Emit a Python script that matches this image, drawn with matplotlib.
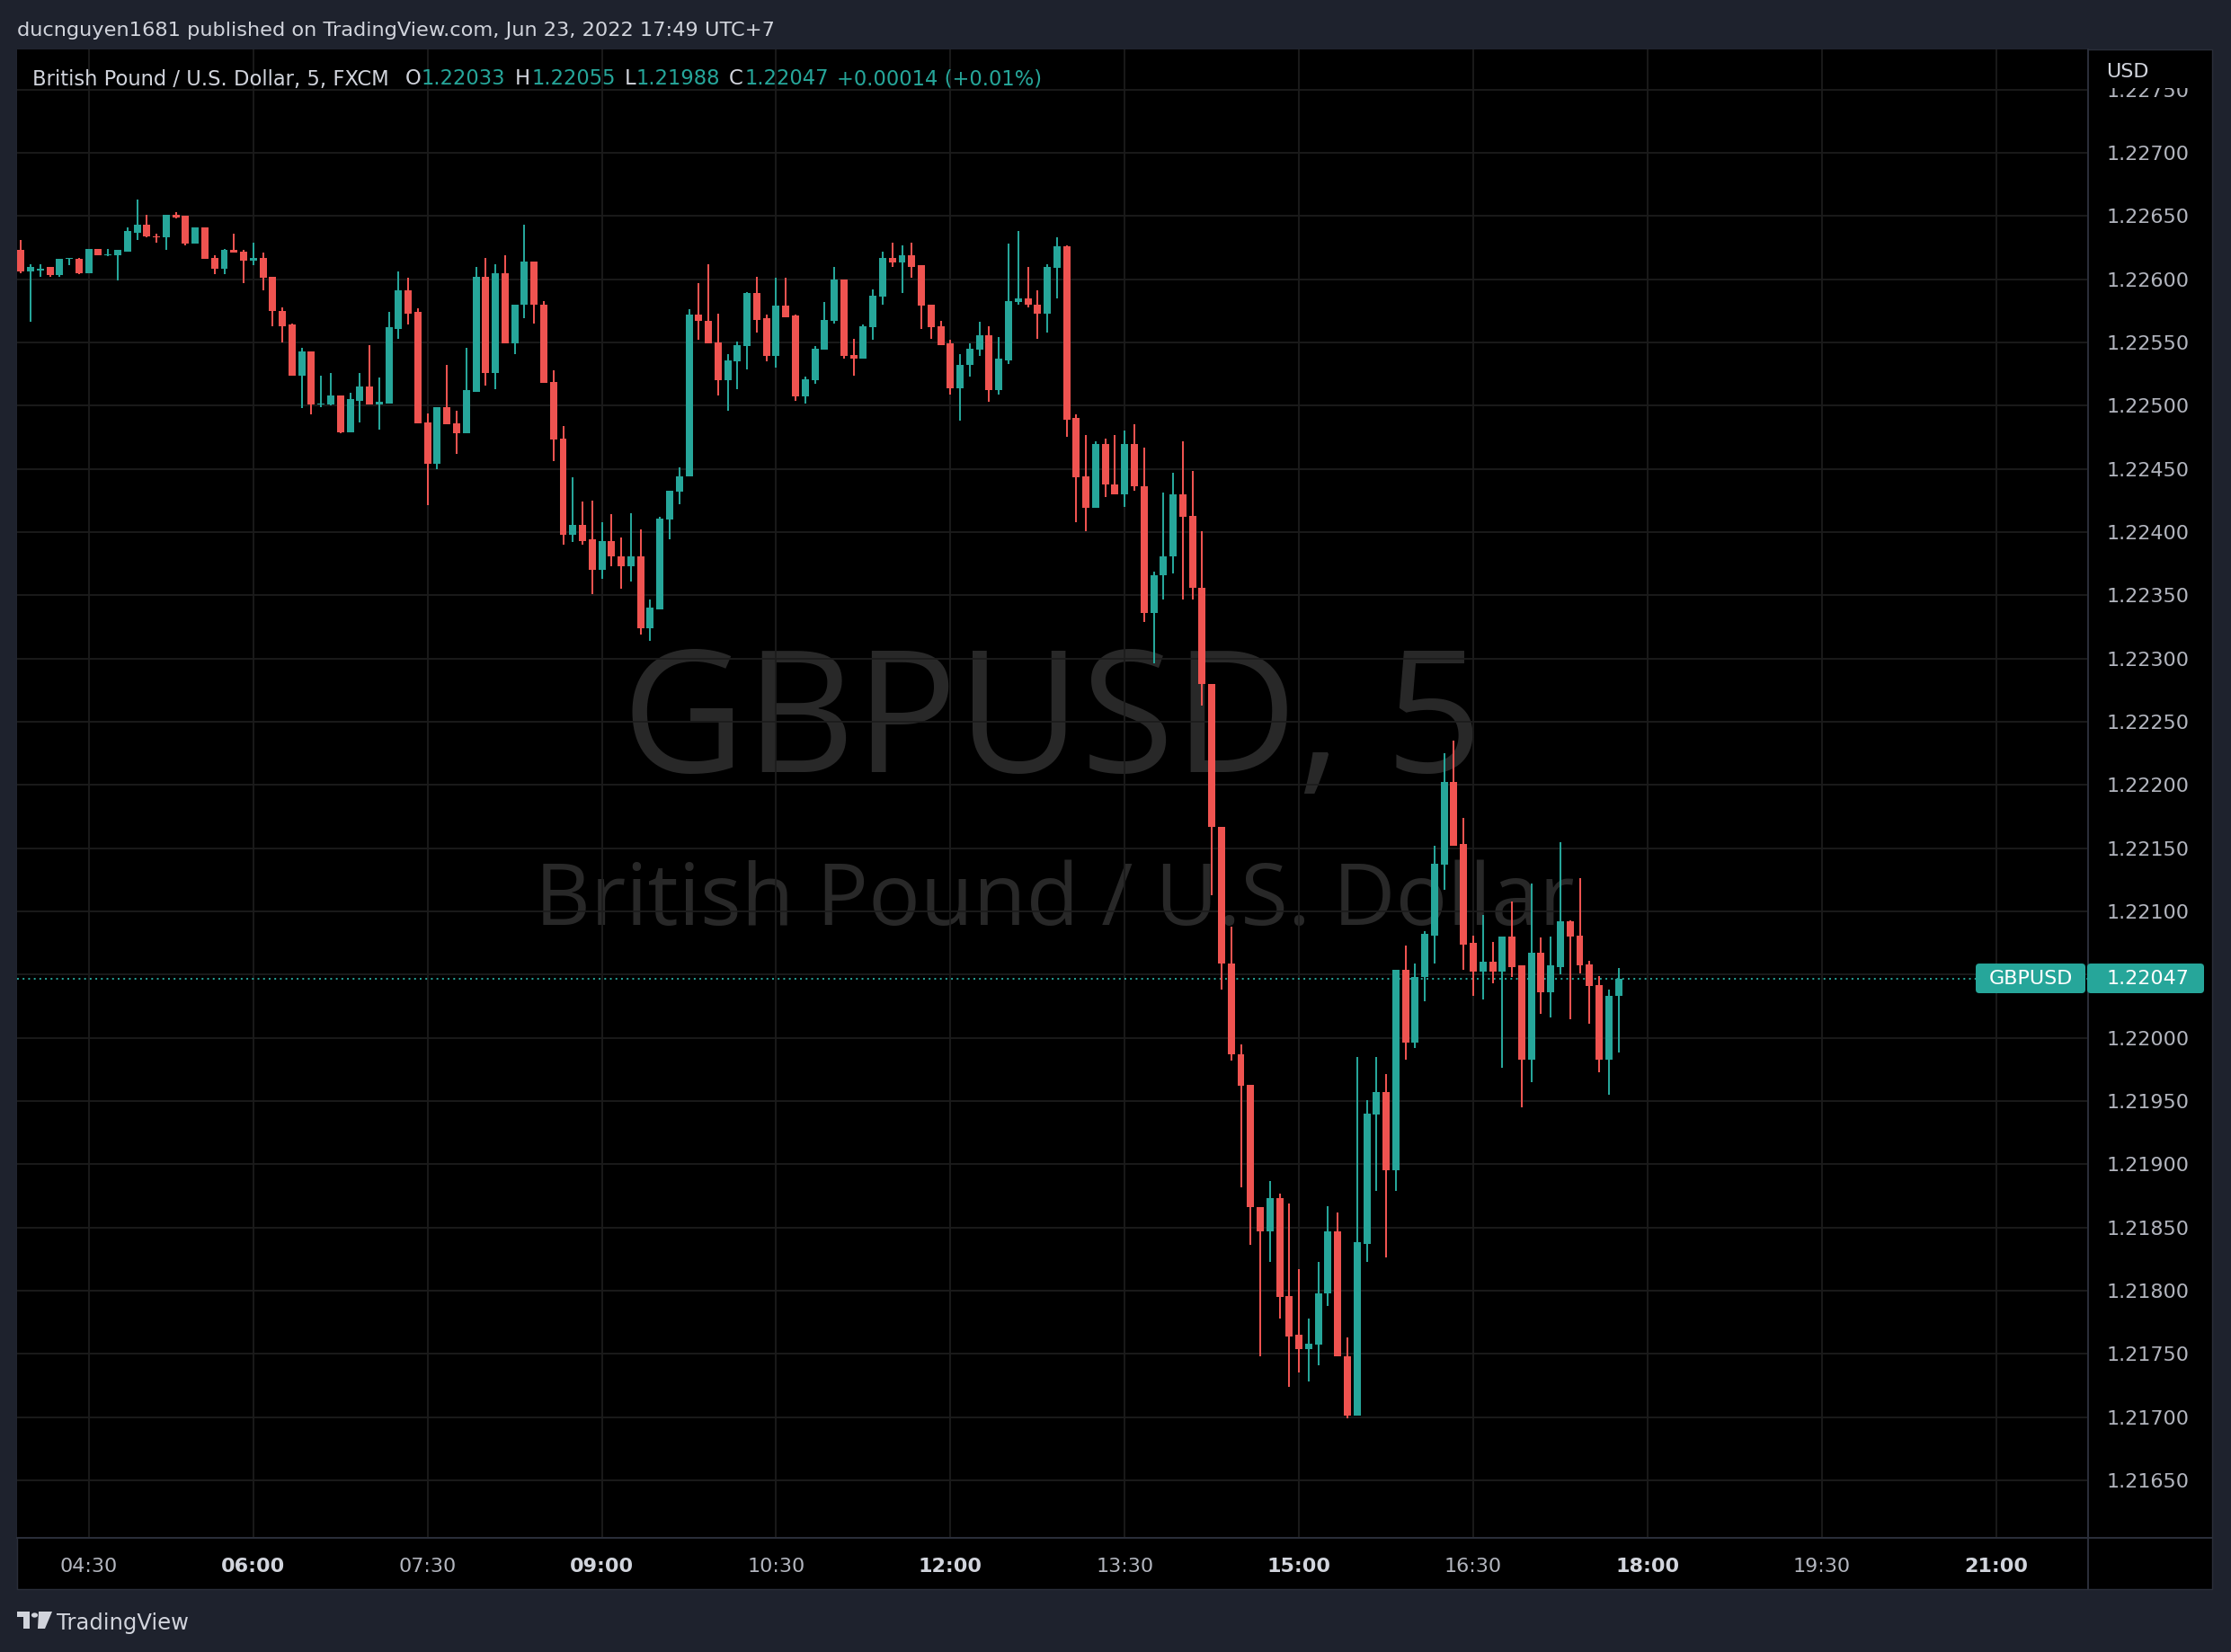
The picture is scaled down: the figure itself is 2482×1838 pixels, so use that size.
"""
GBPUSD 5-minute candles, TradingView dark theme snapshot (Jun 23, 2022).
Prices are kept as points (0.00001) above 1.22000, read off the screenshot.
"""
import numpy as np
import matplotlib
matplotlib.use("Agg")
import matplotlib.pyplot as plt
from matplotlib.patches import Rectangle, FancyBboxPatch, Circle, Polygon
from matplotlib.lines import Line2D
from matplotlib.transforms import Bbox, IdentityTransform

W, H, DPI = 2482, 1838, 100
BASE = 1.22

OPEN = [623, 606, 607, 610, 603, 616, 616, 605, 624, 619,
        619, 622, 637, 643, 634, 633, 651, 650, 628, 641,
        617, 608, 623, 622, 615, 617, 602, 575, 564, 524,
        543, 501, 501, 508, 479, 504, 515, 501, 502, 561,
        591, 574, 487, 454, 499, 486, 478, 511, 602, 526,
        605, 549, 580, 614, 580, 519, 474, 398, 406, 394,
        370, 393, 381, 373, 381, 324, 339, 410, 432, 444,
        572, 567, 550, 520, 535, 547, 589, 569, 539, 579,
        571, 507, 520, 544, 567, 600, 540, 537, 562, 586,
        617, 613, 619, 611, 580, 563, 549, 514, 532, 544,
        556, 512, 536, 582, 585, 580, 573, 609, 626, 490,
        444, 419, 470, 438, 430, 470, 436, 336, 366, 381,
        430, 413, 356, 280, 167, 59, -13, -37, -134, -153,
        -127, -204, -235, -246, -243, -202, -153, -252, -299, -163,
        -61, -43, -105, 54, -4, 48, 81, 137, 202, 153,
        75, 52, 60, 52, 80, 57, -17, 67, 36, 56,
        92, 81, 58, 42, -17, 33]
HIGH = [631, 612, 612, 610, 616, 617, 617, 624, 624, 624,
        623, 641, 663, 651, 636, 651, 653, 650, 641, 641,
        619, 624, 636, 623, 629, 621, 602, 578, 565, 546,
        543, 524, 526, 508, 510, 526, 548, 522, 574, 606,
        601, 577, 494, 499, 532, 496, 546, 610, 617, 612,
        619, 580, 643, 614, 583, 528, 484, 443, 424, 425,
        408, 414, 396, 415, 402, 347, 412, 433, 451, 576,
        597, 612, 573, 541, 551, 590, 602, 572, 601, 601,
        572, 523, 547, 582, 610, 600, 553, 564, 592, 622,
        629, 627, 629, 611, 580, 567, 552, 541, 549, 566,
        563, 554, 628, 638, 610, 591, 612, 633, 627, 493,
        477, 472, 474, 477, 480, 485, 467, 369, 431, 447,
        472, 448, 401, 280, 167, 88, -5, -37, -134, -113,
        -123, -131, -183, -222, -177, -133, -138, -237, -15, -49,
        -15, -29, 54, 73, 59, 84, 152, 225, 235, 174,
        81, 97, 76, 80, 108, 57, 122, 79, 80, 155,
        93, 126, 61, 49, 38, 55]
LOW = [605, 566, 602, 602, 602, 611, 604, 605, 619, 618,
       599, 622, 631, 633, 629, 623, 648, 627, 628, 616,
       604, 604, 621, 597, 611, 591, 563, 550, 524, 498,
       493, 499, 500, 478, 479, 487, 501, 481, 502, 553,
       564, 486, 421, 450, 485, 462, 478, 511, 516, 513,
       549, 541, 569, 565, 518, 456, 390, 392, 390, 351,
       363, 373, 355, 361, 319, 314, 339, 394, 422, 444,
       552, 549, 508, 496, 513, 529, 558, 535, 530, 570,
       504, 502, 517, 544, 565, 537, 524, 537, 552, 580,
       610, 589, 601, 561, 553, 548, 509, 488, 523, 539,
       503, 509, 533, 580, 578, 553, 558, 585, 475, 408,
       401, 419, 428, 430, 420, 433, 329, 296, 347, 367,
       347, 347, 263, 113, 38, -18, -118, -164, -252, -177,
       -222, -276, -265, -272, -259, -212, -252, -301, -299, -177,
       -121, -174, -121, -17, -8, 29, 59, 117, 152, 54,
       33, 30, 43, -24, 48, -55, -35, 19, 16, 50,
       15, 51, 11, -27, -45, -12]
CLOSE = [606, 610, 608, 603, 616, 617, 605, 624, 619, 620,
         623, 638, 643, 634, 633, 651, 649, 628, 641, 616,
         608, 623, 621, 615, 617, 601, 575, 563, 524, 543,
         501, 502, 508, 479, 505, 515, 501, 503, 562, 591,
         573, 486, 454, 499, 485, 478, 512, 602, 526, 605,
         549, 580, 614, 580, 518, 473, 398, 406, 393, 370,
         393, 381, 373, 381, 324, 340, 411, 433, 444, 572,
         567, 549, 520, 536, 548, 589, 568, 539, 579, 570,
         507, 521, 545, 568, 600, 539, 537, 563, 587, 617,
         613, 619, 610, 579, 562, 548, 514, 532, 545, 556,
         512, 537, 583, 585, 580, 573, 610, 626, 489, 443,
         419, 470, 438, 430, 470, 436, 336, 366, 381, 430,
         412, 356, 280, 167, 59, -13, -38, -134, -153, -127,
         -205, -236, -246, -242, -202, -153, -252, -299, -162, -60,
         -43, -105, 54, -4, 48, 82, 138, 202, 152, 74,
         52, 60, 52, 80, 56, -17, 67, 36, 57, 92,
         80, 57, 41, -17, 33, 47]

# bar index of each time label (one 5-min bar is missing before 06:00)
TIME_IDX = [7, 24, 42, 60, 78, 96, 114, 132, 150, 168, 186, 204]
TIME_LAB = ["04:30", "06:00", "07:30", "09:00", "10:30", "12:00",
            "13:30", "15:00", "16:30", "18:00", "19:30", "21:00"]
BOLD_LAB = {"06:00", "09:00", "12:00", "15:00", "18:00", "21:00"}

PRICE_TICKS = [1.21650, 1.21700, 1.21750, 1.21800, 1.21850, 1.21900,
               1.21950, 1.22000, 1.22050, 1.22100, 1.22150, 1.22200,
               1.22250, 1.22300, 1.22350, 1.22400, 1.22450, 1.22500,
               1.22550, 1.22600, 1.22650, 1.22700, 1.22750]
HIDDEN_TICK = 1.22050   # covered by the last-price tag

LEGEND = [("British Pound / U.S. Dollar, 5, FXCM", 36, "fg"),
          ("O", 451, "fg"), ("1.22033", 469, "up"),
          ("H", 573, "fg"), ("1.22055", 592, "up"),
          ("L", 695, "fg"), ("1.21988", 708, "up"),
          ("C", 811, "fg"), ("1.22047", 829, "up"),
          ("+0.00014 (+0.01%)", 931, "up")]

FRAME = "#1e222d"
GREEN, RED = "#26a69a", "#ef5350"
FG, AXLAB = "#d1d4dc", "#b2b5be"
GRID, SEP = "#1c1c1c", "#2a2e39"
WATER = "#282828"
UI = "DejaVu Sans"


def fx(x):
    return x / W


def fy(y):
    return 1 - y / H


fig = plt.figure(figsize=(W / DPI, H / DPI), dpi=DPI, facecolor=FRAME)

# black chart panel (plot + both scales)
fig.patches.append(Rectangle((fx(19), fy(1768)), fx(2461) - fx(19), fy(55) - fy(1768),
                             transform=fig.transFigure, fc="black", ec=SEP, lw=1, zorder=-2))

ax = fig.add_axes([fx(19), fy(1711), fx(2323) - fx(19), fy(55) - fy(1711)])
ax.set_facecolor("black")
for s in ax.spines.values():
    s.set_visible(False)

o = BASE + np.array(OPEN) / 1e5
h = BASE + np.array(HIGH) / 1e5
l = BASE + np.array(LOW) / 1e5
c = BASE + np.array(CLOSE) / 1e5
idx = np.arange(len(c))
col = np.where(c >= o, GREEN, RED)

ax.vlines(idx, l, h, colors=col, lw=1.45, zorder=3)
body = np.maximum(np.abs(c - o), 0.000006)
ax.bar(idx, body, bottom=np.minimum(o, c), width=0.74, color=col, lw=0, zorder=4)

last = c[-1]
ax.axhline(last, color=GREEN, lw=1.4, ls=(0, (1, 2.2)), zorder=2)

ax.set_xlim(-0.40, 213.5)
ax.set_ylim(1.2160445, 1.2278176)

ax.set_xticks(TIME_IDX)
ax.set_xticklabels(TIME_LAB)
ax.set_yticks(PRICE_TICKS)
ax.set_yticklabels(["" if abs(p - HIDDEN_TICK) < 1e-9 else f"{p:.5f}" for p in PRICE_TICKS])
ax.yaxis.tick_right()
ax.tick_params(axis="both", length=0, colors=AXLAB, labelsize=16)
ax.tick_params(axis="y", pad=15.1)
ax.tick_params(axis="x", pad=15.8)
for t in ax.get_xticklabels() + ax.get_yticklabels():
    t.set_family(UI)
for t in ax.get_xticklabels():
    if t.get_text() in BOLD_LAB:
        t.set_fontweight("bold")
        t.set_color(FG)
# top price label is half hidden behind the currency label
top_lab = ax.get_yticklabels()[-1]
top_lab.set_clip_on(True)
top_lab.set_clip_box(Bbox([[2330, 0], [2461, H - 98]]))

ax.grid(True, color=GRID, lw=1.3, zorder=0.6)
ax.set_axisbelow(True)

# watermark (under the grid)
ax.text(0.5, 0.5142, "GBPUSD, 5", transform=ax.transAxes, ha="center", va="baseline",
        fontsize=136, color=WATER, family="Open Sans", zorder=0.3)
ax.text(0.501, 0.4118, "British Pound / U.S. Dollar", transform=ax.transAxes, ha="center",
        va="baseline", fontsize=69, color=WATER, family="Open Sans", zorder=0.3)

# scale separators
fig.add_artist(Line2D([fx(2323), fx(2323)], [fy(55), fy(1768)], color=SEP, lw=1.44))
fig.add_artist(Line2D([fx(19), fx(2461)], [fy(1711), fy(1711)], color=SEP, lw=1.44))

# last price tags
fig.canvas.draw()
ypx = ax.transData.transform((0, last))[1]
r = 4
for x0, x1 in [(2198, 2320), (2322, 2452)]:
    fig.patches.append(FancyBboxPatch((x0 + r, ypx - 16.5 + r), x1 - x0 - 2 * r, 33 - 2 * r,
                                      boxstyle=f"round,pad={r}", transform=IdentityTransform(),
                                      fc=GREEN, ec="none", zorder=5))
fig.text(2259 / W, ypx / H, "GBPUSD", ha="center", va="center", color="white",
         fontsize=16, family=UI, zorder=6)
fig.text(2344 / W, ypx / H, f"{last:.5f}", ha="left", va="center", color="white",
         fontsize=16, family=UI, zorder=6)

# texts on the frame and panel
fig.text(fx(19), fy(34), "ducnguyen1681 published on TradingView.com, Jun 23, 2022 17:49 UTC+7",
         ha="left", va="center", color=FG, fontsize=16.2, family=UI)
for txt, x, kind in LEGEND:
    fig.text(fx(x), fy(88), txt, ha="left", va="center", fontsize=16.3, family=UI,
             color=GREEN if kind == "up" else FG)
fig.text(fx(2343), fy(80), "USD", ha="left", va="center", color=FG, fontsize=16, family=UI)

# TradingView logo + name
logo = dict(transform=fig.transFigure, fc=FG, ec="none")
fig.patches.append(Polygon([(fx(19), fy(1793)), (fx(33), fy(1793)), (fx(33), fy(1812)),
                            (fx(26), fy(1812)), (fx(26), fy(1799)), (fx(19), fy(1799))], **logo))
fig.patches.append(Circle((fx(38.5), fy(1797)), 3.6 / W, **logo))
fig.patches.append(Polygon([(fx(43), fy(1793)), (fx(58), fy(1793)), (fx(50), fy(1812)),
                            (fx(42), fy(1812))], **logo))
fig.text(fx(63), fy(1806), "TradingView", ha="left", va="center", color=FG,
         fontsize=17.5, family=UI)

fig.savefig("out.png", dpi=DPI, facecolor=FRAME)
